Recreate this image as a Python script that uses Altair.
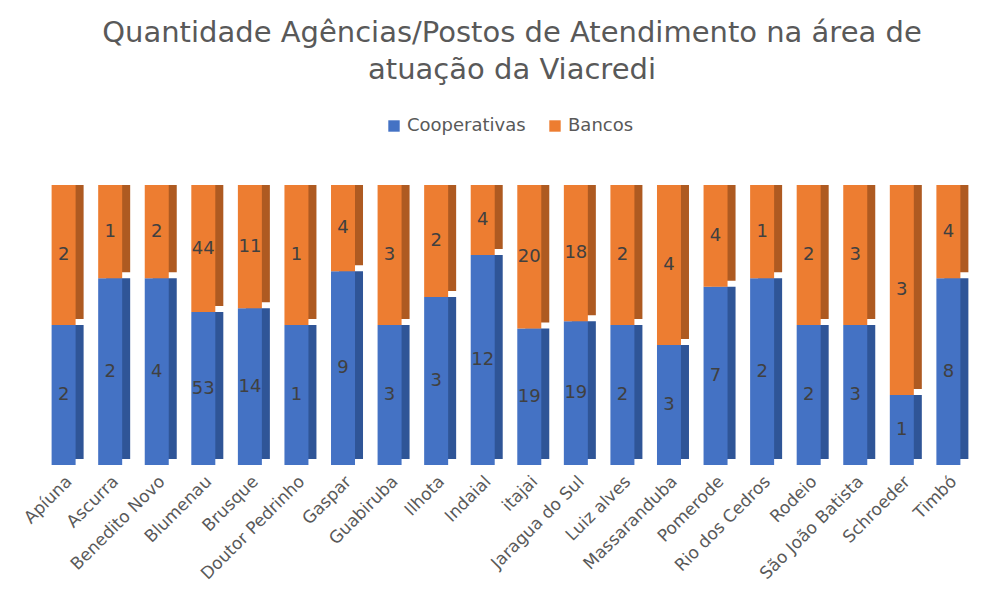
import altair as alt
import pandas as pd

municipios = ["Apíuna", "Ascurra", "Benedito Novo", "Blumenau", "Brusque",
              "Doutor Pedrinho", "Gaspar", "Guabiruba", "Ilhota", "Indaial",
              "itajai", "Jaragua do Sul", "Luiz alves", "Massaranduba",
              "Pomerode", "Rio dos Cedros", "Rodeio", "São João Batista",
              "Schroeder", "Timbó"]
cooperativas = [2, 2, 4, 53, 14, 1, 9, 3, 3, 12, 19, 19, 2, 3, 7, 2, 2, 3, 1, 8]
bancos = [2, 1, 2, 44, 11, 1, 4, 3, 2, 4, 20, 18, 2, 4, 4, 1, 2, 3, 3, 4]
series = ["Cooperativas", "Bancos"]
front_colors = ["#4472C4", "#ED7D31"]
side_colors = ["#2F5597", "#AE5A21"]

rows = []
for i, m in enumerate(municipios):
    rows.append({"Municipio": m, "Tipo": series[0], "Valor": cooperativas[i], "ordem": 0})
    rows.append({"Municipio": m, "Tipo": series[1], "Valor": bancos[i], "ordem": 1})
df = pd.DataFrame(rows)

FONT = "DejaVu Sans"

base = alt.Chart(df).transform_stack(
    stack="Valor", groupby=["Municipio"], as_=["y0", "y1"],
    offset="normalize", sort=[alt.SortField("ordem", order="ascending")]
).transform_calculate(ymid="(datum.y0 + datum.y1) / 2")

x_enc = alt.X(
    "Municipio:N", sort=municipios, title=None,
    scale=alt.Scale(paddingOuter=0.1),
    axis=alt.Axis(labelAngle=-45, labelFontSize=17, labelColor="#595959",
                  labelFont=FONT, domain=False, ticks=False, labelPadding=8,
                  labelAlign="right", labelBaseline="top"),
)
y_scale = alt.Scale(domain=[0, 1])

back = base.mark_bar(size=24, xOffset=8, yOffset=-6).encode(
    x=x_enc,
    y=alt.Y("y0:Q", scale=y_scale, axis=None),
    y2="y1:Q",
    color=alt.Color("Tipo:N", scale=alt.Scale(domain=series, range=side_colors), legend=None),
)

front = base.mark_bar(size=24).encode(
    x=x_enc,
    y=alt.Y("y0:Q", scale=y_scale, axis=None),
    y2="y1:Q",
    color=alt.Color("Tipo:N", scale=alt.Scale(domain=series, range=front_colors),
                    legend=alt.Legend(orient="none", legendX=347, legendY=-68,
                                      direction="horizontal", title=None,
                                      symbolType="square", symbolSize=130,
                                      labelFontSize=18, labelColor="#595959",
                                      labelFont=FONT, columnPadding=20)),
)

labels = base.mark_text(fontSize=18, color="#404040", font=FONT).encode(
    x=x_enc,
    y=alt.Y("ymid:Q", scale=y_scale, axis=None),
    text="Valor:Q",
)

chart = alt.layer(back, front, labels).resolve_scale(color="independent").properties(
    width=936, height=280,
    padding={"left": 30, "top": 177, "right": 0, "bottom": 119},
    autosize=alt.AutoSizeParams(type="none"),
    title=alt.TitleParams(
        ["Quantidade Agências/Postos de Atendimento na área de", "atuação da Viacredi"],
        fontSize=29, color="#595959", font=FONT, fontWeight="normal",
        lineHeight=37, offset=32, anchor="middle", dx=6,
    ),
).configure_view(stroke=None)

chart.save("out.html", embed_options={"renderer": "svg", "actions": False})
